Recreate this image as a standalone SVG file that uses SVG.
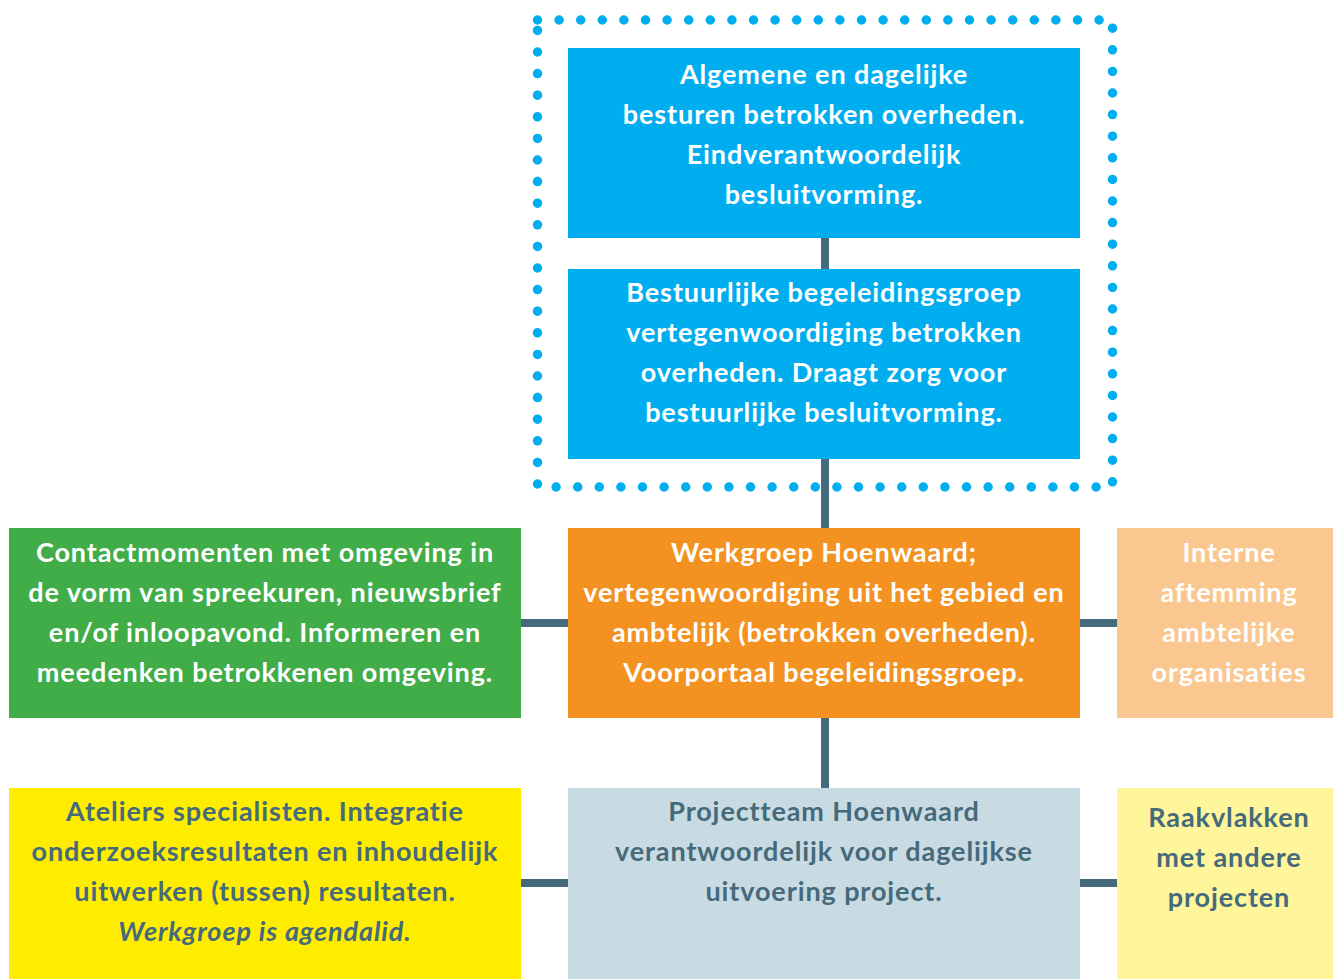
<svg xmlns="http://www.w3.org/2000/svg" width="1333" height="979" viewBox="0 0 1333 979">
<style>
.t{font-family:Lato,"Open Sans","Liberation Sans",sans-serif;font-weight:700;font-size:27px;letter-spacing:0.9px;text-anchor:middle;dominant-baseline:central}
.w{fill:#ffffff}
.d{fill:#456a7b}
.c{stroke:#456a7b;stroke-width:8;fill:none}
</style>
<rect width="1333" height="979" fill="#ffffff"/>
<g id="connectors">
<line class="c" x1="825" y1="238" x2="825" y2="788"/>
<line class="c" x1="521" y1="623" x2="568" y2="623"/>
<line class="c" x1="1080" y1="623" x2="1117" y2="623"/>
<line class="c" x1="521" y1="883" x2="568" y2="883"/>
<line class="c" x1="1080" y1="883" x2="1117" y2="883"/>
</g>
<g id="frame">
<rect x="537.5" y="20" width="575" height="467" fill="none" stroke="#00aeef" stroke-width="9.5" stroke-linecap="round" stroke-dasharray="0 21.6"/>
</g>
<g id="n1">
<rect x="568" y="48" width="512" height="190" fill="#00aeef"/>
<text class="t w"><tspan x="824" y="73">Algemene en dagelijke</tspan><tspan x="824" y="113">besturen betrokken overheden.</tspan><tspan x="824" y="153">Eindverantwoordelijk</tspan><tspan x="824" y="193">besluitvorming.</tspan></text>
</g>
<g id="n2">
<rect x="568" y="269" width="512" height="190" fill="#00aeef"/>
<text class="t w"><tspan x="824" y="291">Bestuurlijke begeleidingsgroep</tspan><tspan x="824" y="331">vertegenwoordiging betrokken</tspan><tspan x="824" y="371">overheden. Draagt zorg voor</tspan><tspan x="824" y="411">bestuurlijke besluitvorming.</tspan></text>
</g>
<g id="n3">
<rect x="568" y="528" width="512" height="190" fill="#f39220"/>
<text class="t w"><tspan x="824" y="551">Werkgroep Hoenwaard;</tspan><tspan x="824" y="591">vertegenwoordiging uit het gebied en</tspan><tspan x="824" y="631">ambtelijk (betrokken overheden).</tspan><tspan x="824" y="671">Voorportaal begeleidingsgroep.</tspan></text>
</g>
<g id="n4">
<rect x="9" y="528" width="512" height="190" fill="#41ad49"/>
<text class="t w"><tspan x="265" y="551">Contactmomenten met omgeving in</tspan><tspan x="265" y="591">de vorm van spreekuren, nieuwsbrief</tspan><tspan x="265" y="631">en/of inloopavond. Informeren en</tspan><tspan x="265" y="671">meedenken betrokkenen omgeving.</tspan></text>
</g>
<g id="n5">
<rect x="1117" y="528" width="216" height="190" fill="#f9c78f"/>
<text class="t w"><tspan x="1229" y="551">Interne</tspan><tspan x="1229" y="591">aftemming</tspan><tspan x="1229" y="631">ambtelijke</tspan><tspan x="1229" y="671">organisaties</tspan></text>
</g>
<g id="n6">
<rect x="9" y="788" width="512" height="191" fill="#ffed00"/>
<text class="t d"><tspan x="265" y="810">Ateliers specialisten. Integratie</tspan><tspan x="265" y="850">onderzoeksresultaten en inhoudelijk</tspan><tspan x="265" y="890">uitwerken (tussen) resultaten.</tspan><tspan x="265" y="930" font-style="italic">Werkgroep is agendalid.</tspan></text>
</g>
<g id="n7">
<rect x="568" y="788" width="512" height="191" fill="#c9dbe2"/>
<text class="t d"><tspan x="824" y="810">Projectteam Hoenwaard</tspan><tspan x="824" y="850">verantwoordelijk voor dagelijkse</tspan><tspan x="824" y="890">uitvoering project.</tspan></text>
</g>
<g id="n8">
<rect x="1117" y="788" width="216" height="191" fill="#fff59b"/>
<text class="t d"><tspan x="1229" y="816">Raakvlakken</tspan><tspan x="1229" y="856">met andere</tspan><tspan x="1229" y="896">projecten</tspan></text>
</g>
</svg>
